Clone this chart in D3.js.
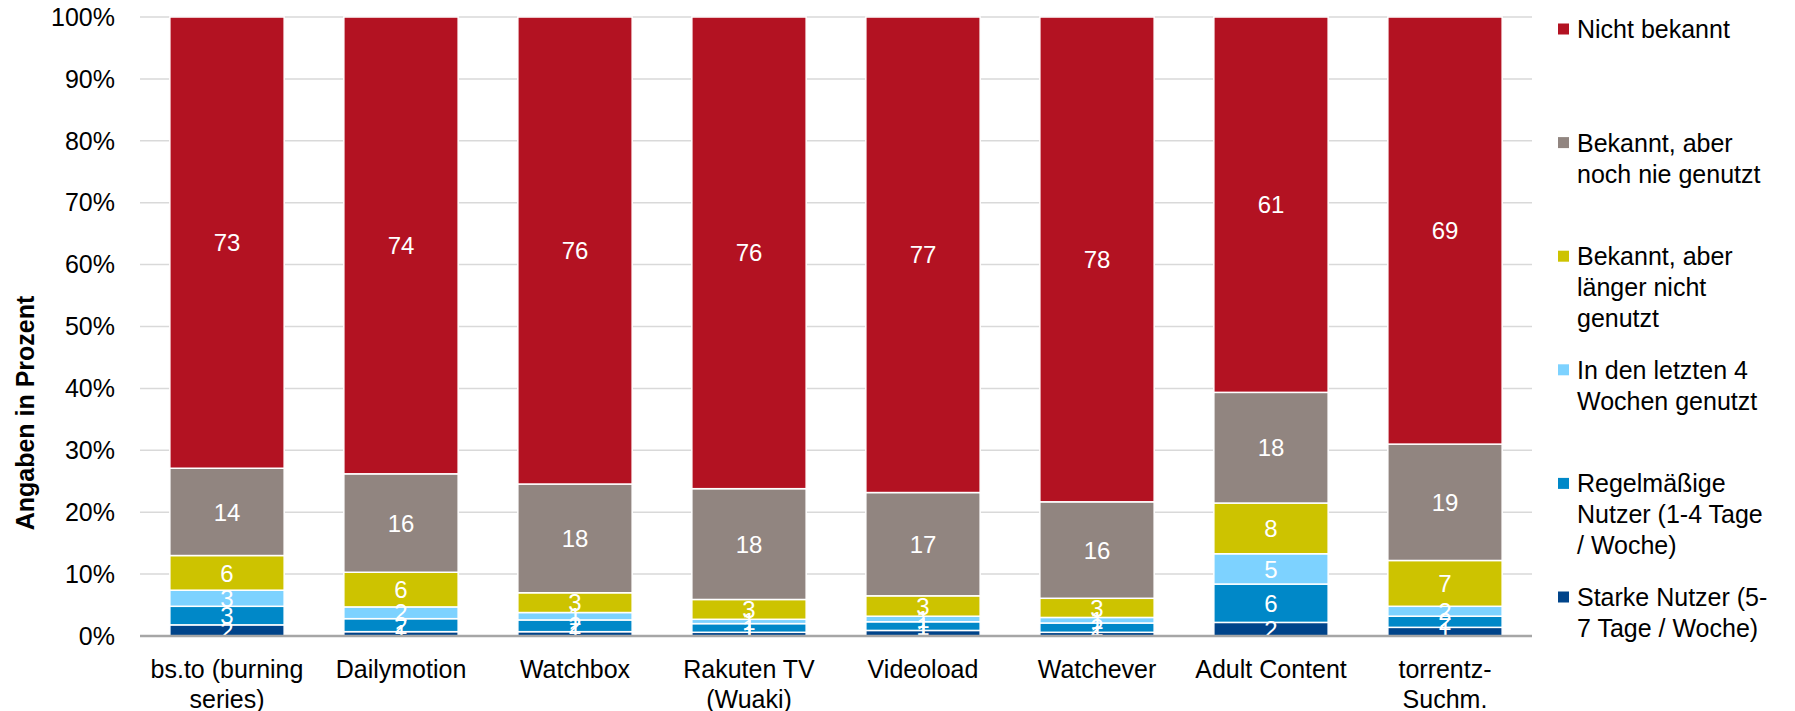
<!DOCTYPE html>
<html>
<head>
<meta charset="utf-8">
<script src="https://cdn.jsdelivr.net/npm/d3@7"></script>
<style>
  body { margin: 0; background: #fff; }
  text { font-family: "Liberation Sans", Arial, sans-serif; }
</style>
</head>
<body>
<script>
// categories (x labels, already split into lines)
const categories = ["bs.to (burning series)", "Dailymotion", "Watchbox", "Rakuten TV (Wuaki)",
  "Videoload", "Watchever", "Adult Content", "torrentz-Suchm."];
const categoryLines = [["bs.to (burning", "series)"], ["Dailymotion"], ["Watchbox"], ["Rakuten TV", "(Wuaki)"],
  ["Videoload"], ["Watchever"], ["Adult Content"], ["torrentz-", "Suchm."]];

// series, bottom to top
const starkeNutzer   = [1.8, 0.7, 0.7, 0.6, 0.9, 0.6, 2.2, 1.4];
const regelmaessig   = [3.0, 2.1, 1.9, 1.4, 1.4, 1.5, 6.2, 1.8];
const letzte4Wochen  = [2.6, 1.9, 1.2, 0.7, 0.9, 0.9, 4.9, 1.6];
const laengerNicht   = [5.6, 5.6, 3.2, 3.2, 3.3, 3.1, 8.2, 7.4];
const nochNie        = [14.1, 15.9, 17.6, 17.9, 16.7, 15.6, 17.9, 18.8];
const nichtBekannt   = [72.9, 73.8, 75.6, 76.2, 76.9, 78.4, 60.7, 69.0];

const seriesKeys = ["starke", "regel", "letzte", "laenger", "nie", "nicht"];
const seriesValues = [starkeNutzer, regelmaessig, letzte4Wochen, laengerNicht, nochNie, nichtBekannt];
const seriesColors = ["#00448a", "#0088c8", "#7dd2ff", "#cdc300", "#918580", "#b31222"];

// legend, top to bottom
const legendKeys = ["nicht", "nie", "laenger", "letzte", "regel", "starke"];
const legendLines = [
  ["Nicht bekannt"],
  ["Bekannt, aber", "noch nie genutzt"],
  ["Bekannt, aber", "länger nicht", "genutzt"],
  ["In den letzten 4", "Wochen genutzt"],
  ["Regelmäßige", "Nutzer (1-4 Tage", "/ Woche)"],
  ["Starke Nutzer (5-", "7 Tage / Woche)"]
];

const yTicks = [0, 0.1, 0.2, 0.3, 0.4, 0.5, 0.6, 0.7, 0.8, 0.9, 1];

const W = 1795, H = 711;
const plotLeft = 140, plotRight = 1532, plotTop = 17, plotBottom = 636;

const rows = categories.map((c, i) => {
  const r = { cat: c };
  seriesKeys.forEach((k, j) => r[k] = seriesValues[j][i]);
  return r;
});

const color = d3.scaleOrdinal().domain(seriesKeys).range(seriesColors);

const x = d3.scaleBand().domain(categories).range([plotLeft, plotRight])
  .paddingInner(0.343).paddingOuter(0.1715);
const y = d3.scaleLinear().domain([0, 1]).range([plotBottom, plotTop]);

const svg = d3.select("body").append("svg").attr("width", W).attr("height", H);

// gridlines
svg.append("g").selectAll("line").data(yTicks.slice(1)).enter().append("line")
  .attr("x1", plotLeft).attr("x2", plotRight)
  .attr("y1", d => y(d)).attr("y2", d => y(d))
  .attr("stroke", "#d9d9d9").attr("stroke-width", 1.5);

// y tick labels
svg.append("g").selectAll("text").data(yTicks).enter().append("text")
  .attr("x", 115).attr("y", d => y(d)).attr("dy", "0.35em")
  .attr("text-anchor", "end").attr("font-size", 25).attr("fill", "#000")
  .text(d => Math.round(d * 100) + "%");

// y axis title
svg.append("text")
  .attr("transform", "translate(34,413) rotate(-90)")
  .attr("text-anchor", "middle").attr("font-size", 25).attr("font-weight", "bold")
  .text("Angaben in Prozent");

const stacked = d3.stack().keys(seriesKeys).offset(d3.stackOffsetExpand)(rows);

const layers = svg.append("g").selectAll("g").data(stacked).enter().append("g")
  .attr("fill", d => color(d.key));

layers.selectAll("rect").data(d => d).enter().append("rect")
  .attr("x", d => x(d.data.cat))
  .attr("width", x.bandwidth())
  .attr("y", d => y(d[1]))
  .attr("height", d => y(d[0]) - y(d[1]))
  .attr("stroke", "#fff").attr("stroke-width", 1.5);

// value labels
const labels = svg.append("g");
stacked.forEach(layer => {
  layer.forEach(d => {
    labels.append("text")
      .attr("x", x(d.data.cat) + x.bandwidth() / 2)
      .attr("y", (y(d[0]) + y(d[1])) / 2)
      .attr("dy", "0.36em")
      .attr("text-anchor", "middle").attr("font-size", 24).attr("fill", "#fff")
      .text(Math.round(d.data[layer.key]));
  });
});

// baseline
svg.append("line").attr("x1", plotLeft).attr("x2", plotRight)
  .attr("y1", y(0)).attr("y2", y(0))
  .attr("stroke", "#a6a6a6").attr("stroke-width", 2.5);

// x labels
const xl = svg.append("g").selectAll("text").data(categories).enter().append("text")
  .attr("x", d => x(d) + x.bandwidth() / 2)
  .attr("y", 678)
  .attr("text-anchor", "middle").attr("font-size", 25).attr("fill", "#000");
xl.each(function (d, i) {
  d3.select(this).selectAll("tspan").data(categoryLines[i]).enter().append("tspan")
    .attr("x", x(d) + x.bandwidth() / 2)
    .attr("dy", (t, j) => j === 0 ? 0 : 30)
    .text(t => t);
});

// legend
const leg = svg.append("g").selectAll("g").data(legendKeys).enter().append("g")
  .attr("transform", (d, i) => `translate(1558,${29 + i * 113.6})`);
leg.append("rect").attr("x", 0).attr("y", -5.5).attr("width", 11).attr("height", 11)
  .attr("fill", d => color(d));
leg.append("text").attr("x", 19).attr("y", 9).attr("font-size", 25).attr("fill", "#000")
  .each(function (d, i) {
    d3.select(this).selectAll("tspan").data(legendLines[i]).enter().append("tspan")
      .attr("x", 19).attr("dy", (t, j) => j === 0 ? 0 : 31)
      .text(t => t);
  });
</script>
</body>
</html>
